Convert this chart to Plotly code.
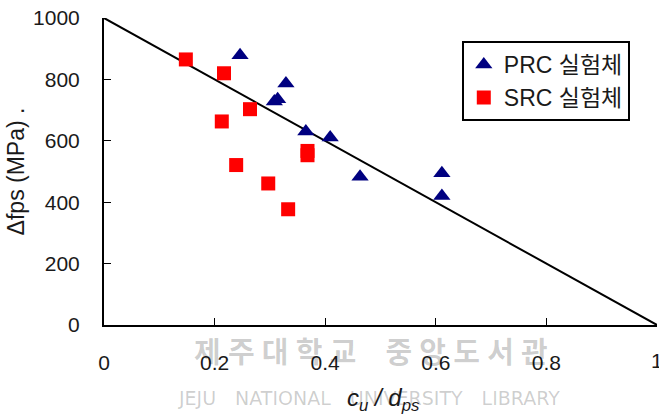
import plotly.graph_objects as go

# Data
prc_x = [0.246, 0.329, 0.308, 0.314, 0.365, 0.409, 0.463, 0.611, 0.611]
prc_y = [879, 787, 728, 735, 630, 611, 483, 494, 420]
src_x = [0.148, 0.217, 0.264, 0.213, 0.368, 0.368, 0.239, 0.297, 0.333]
src_y = [865, 820, 703, 663, 567, 553, 521, 461, 377]
line_x = [0, 1]
line_y = [1000, 0]
x_ticks = [0, 0.2, 0.4, 0.6, 0.8, 1]
x_ticklabels = ["0", "0.2", "0.4", "0.6", "0.8", "1"]
y_ticks = [0, 200, 400, 600, 800, 1000]

FONT = "Liberation Sans, Arial, Noto Sans CJK KR"
TXT = "#1a1a1a"
WM = "rgba(0,0,0,0.2)"

fig = go.Figure()
fig.add_trace(go.Scatter(x=line_x, y=line_y, mode="lines",
                         line=dict(color="black", width=2),
                         showlegend=False, hoverinfo="skip"))
fig.add_trace(go.Scatter(x=prc_x, y=prc_y, mode="markers", name="PRC 실험체",
                         marker=dict(symbol="triangle-up", size=15, color="#000080"),
                         legendgroup="a", cliponaxis=False))
fig.add_trace(go.Scatter(x=src_x, y=src_y, mode="markers", name="SRC 실험체",
                         marker=dict(symbol="square", size=14, color="#FF0000"),
                         legendgroup="b", cliponaxis=False))

# faint library watermark (stretched lettering approximated with thin spaces)
wm_kr = "\u2005".join("제주대학교") + "\u2003" + "\u2005".join("중앙도서관")
fig.add_annotation(text=wm_kr, xref="paper", yref="paper",
                   x=0.482, y=-0.08, yanchor="middle", xanchor="center", showarrow=False,
                   font=dict(family="Noto Sans CJK KR", size=29, color=WM, weight="bold"))
wm_en = "\u2003".join(["JEJU", "NATIONAL", "UNIVERSITY", "LIBRARY"])
fig.add_annotation(text=wm_en, xref="paper", yref="paper",
                   x=0.48, y=-0.237, yanchor="middle", xanchor="center", showarrow=False,
                   font=dict(family="DejaVu Sans", size=19, color=WM))
# last x tick label, partly outside the window as in the reference
fig.add_annotation(text=x_ticklabels[-1], xref="x", yref="paper",
                   x=x_ticks[-1], y=-0.117, yanchor="middle", xanchor="center",
                   showarrow=False, font=dict(family=FONT, size=21, color=TXT))
# x-axis title
fig.add_annotation(text="<i>c<sub>u</sub> / d<sub>ps</sub></i>", xref="paper", yref="paper",
                   x=0.505, y=-0.244, yanchor="middle", xanchor="center",
                   showarrow=False, font=dict(family=FONT, size=24, color=TXT))

fig.update_layout(
    width=659, height=414,
    margin=dict(l=104, r=2, t=18, b=89),
    paper_bgcolor="white", plot_bgcolor="white",
    font=dict(family=FONT, size=21, color=TXT),
    showlegend=True,
    legend=dict(x=0.647, y=0.925, xanchor="left", yanchor="top",
                bordercolor="black", borderwidth=2, bgcolor="white",
                font=dict(family=FONT, size=23, color=TXT),
                tracegroupgap=0),
    xaxis=dict(range=[0, 1], tickvals=x_ticks[:-1], ticktext=x_ticklabels[:-1],
               showgrid=False, zeroline=False, showline=True,
               linecolor="black", linewidth=2, ticks="inside", ticklen=7,
               tickcolor="black", ticklabelstandoff=18),
    yaxis=dict(range=[0, 1000], tickvals=y_ticks,
               showgrid=False, zeroline=False, showline=True,
               linecolor="black", linewidth=2, ticks="inside", ticklen=7,
               tickcolor="black", ticklabelstandoff=18,
               title=dict(text="Δfps (MPa) .", font=dict(size=23), standoff=2)),
)

fig.write_html("out.html")
